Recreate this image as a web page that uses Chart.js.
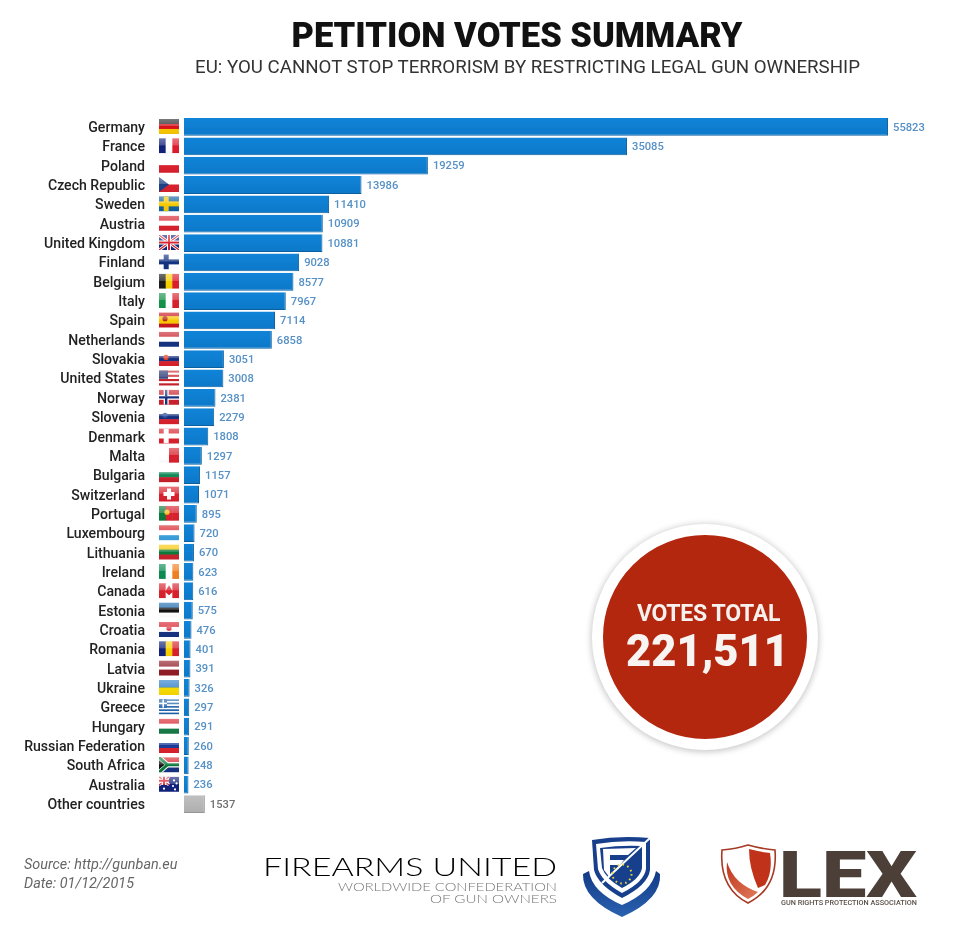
<!DOCTYPE html>
<html>
<head>
<meta charset="utf-8">
<title>Petition votes summary</title>
<script src="https://cdn.jsdelivr.net/npm/chart.js@4"></script>
<style>
  html, body { margin:0; padding:0; background:#fff; }
  #page { position:relative; width:960px; height:945px; overflow:hidden; font-family:Roboto, sans-serif; }
  #page > canvas { position:absolute; left:0; top:0; }
  .txt { position:absolute; white-space:nowrap; }
  #title { left:0; width:1034px; top:14px; text-align:center; font-size:34.5px; line-height:42px; font-weight:900; color:#111; }
  #subtitle { left:0; width:1055px; top:55px; text-align:center; font-size:18.7px; line-height:24px; color:#333; }
  #source { left:24px; top:855px; font-size:14.4px; line-height:19px; font-style:italic; color:#666; }
  #circle { position:absolute; left:592px; top:524px; width:204px; height:204px; border:11px solid #fff; border-radius:50%; background:#b3270f; box-shadow:0 1px 6px 1px rgba(0,0,0,.22); }
  #votesLabel { left:592px; width:233px; top:600px; text-align:center; font-size:23px; line-height:28px; font-weight:700; color:#f6f1ee; letter-spacing:-0.3px; }
  #votesTotal { left:592px; width:231px; top:626px; text-align:center; font-size:43.5px; line-height:52px; font-weight:900; color:#f8f4f2; }
  #logos { position:absolute; left:0; top:0; }
</style>
</head>
<body>
<div id="page">
  <canvas id="votesChart" width="960" height="945"></canvas>
  <div class="txt" id="title">PETITION VOTES SUMMARY</div>
  <div class="txt" id="subtitle">EU: YOU CANNOT STOP TERRORISM BY RESTRICTING LEGAL GUN OWNERSHIP</div>
  <div class="txt" id="source">Source: http://gunban.eu<br>Date: 01/12/2015</div>
  <div id="circle"></div>
  <div class="txt" id="votesLabel">VOTES TOTAL</div>
  <div class="txt" id="votesTotal">221,511</div>
  <svg id="logos" width="960" height="945" viewBox="0 0 960 945">
    <defs>
      <linearGradient id="fuBlue" x1="0" y1="0" x2="0" y2="1">
        <stop offset="0" stop-color="#123a86"/>
        <stop offset="1" stop-color="#2a62b0"/>
      </linearGradient>
      <linearGradient id="lexRed" x1="0" y1="0" x2="1" y2="1">
        <stop offset="0" stop-color="#c0361c"/>
        <stop offset="1" stop-color="#e07a5c"/>
      </linearGradient>
    </defs>
    <text x="557" y="876" text-anchor="end" textLength="294" lengthAdjust="spacingAndGlyphs" font-family="Lato" font-weight="300" font-size="25" fill="#000">FIREARMS UNITED</text>
    <text x="557" y="891" text-anchor="end" textLength="219" lengthAdjust="spacingAndGlyphs" font-family="Lato" font-weight="300" font-size="12" fill="#777">WORLDWIDE CONFEDERATION</text>
    <text x="557" y="903" text-anchor="end" textLength="127" lengthAdjust="spacingAndGlyphs" font-family="Lato" font-weight="300" font-size="12" fill="#777">OF GUN OWNERS</text>
    <!-- firearms united shield -->
    <path d="M583 874 L589 871 Q592 892 622 905 Q652 892 656 871 L660 874 Q662 899 622 917 Q582 899 583 874 Z" fill="url(#fuBlue)"/>
    <path d="M592 840 Q620 835 650 838 L650 870 Q648 885 622 898 Q598 885 594 870 Z" fill="#173f8c"/>
    <path d="M596 844 Q620 840 646 842 L646 869 Q644 882 622 893 Q602 882 598 869 Z" fill="#fff"/>
    <path d="M600 848 Q620 845 642 846 L642 868 Q640 879 622 888 Q606 879 602 868 Z" fill="#173f8c"/>
    <path d="M603 849 L636 848 L628 855 L610 855 L610 860 L624 860 L620 865 L610 865 L610 878 L604 870 Z" fill="#fff"/>
    <path d="M602 883 L650 838" stroke="#fff" stroke-width="2" fill="none"/>
    <circle cx="622" cy="874" r="9.5" fill="none" stroke="#e8d33a" stroke-width="2" stroke-dasharray="1.6 3.4"/>
    <!-- lex shield -->
    <path d="M722 850 Q736 849 748 845 Q762 849 775 850 Q778 888 748 903 Q719 888 722 850 Z" fill="#fff" stroke="#a63a24" stroke-width="1.6"/>
    <path d="M749 849 Q760 852 770 853 Q773 872 765 885 L758 888 Q749 868 749 849 Z" fill="#c0321a"/>
    <path d="M727 862 Q734 884 758 892 Q754 896 748 899 Q724 886 727 862 Z" fill="url(#lexRed)"/>
    <text x="779" y="897" textLength="138" lengthAdjust="spacingAndGlyphs" font-family="Roboto" font-weight="900" font-size="65" fill="#4b3f38">LEX</text>
    <text x="781" y="905" textLength="136" lengthAdjust="spacingAndGlyphs" font-family="Roboto" font-weight="500" font-size="6.3" fill="#5a4f48">GUN RIGHTS PROTECTION ASSOCIATION</text>
  </svg>
</div>

<script>
// =============================
// DATA
// =============================
const countries = [
  "Germany","France","Poland","Czech Republic","Sweden","Austria","United Kingdom","Finland",
  "Belgium","Italy","Spain","Netherlands","Slovakia","United States","Norway","Slovenia",
  "Denmark","Malta","Bulgaria","Switzerland","Portugal","Luxembourg","Lithuania","Ireland",
  "Canada","Estonia","Croatia","Romania","Latvia","Ukraine","Greece","Hungary",
  "Russian Federation","South Africa","Australia","Other countries"
];
const votes = [
  55823,35085,19259,13986,11410,10909,10881,9028,
  8577,7967,7114,6858,3051,3008,2381,2279,
  1808,1297,1157,1071,895,720,670,623,
  616,575,476,401,391,326,297,291,
  260,248,236,1537
];

// flag colours: h = horizontal stripes, v = vertical stripes, extra = drawn on top
const flags = {
  "Germany": { h:["#2a2a2a","#d8121a","#f7c600"] },
  "France": { v:["#10207a","#ffffff","#dd1a2a"] },
  "Poland": { h:["#ffffff","#d8202c"] },
  "Czech Republic": { h:["#ffffff","#d8202c"], extra:"hoist", color:"#1c3f86" },
  "Sweden": { h:["#0f5f9f"], extra:"cross", color:"#f5c800" },
  "Austria": { h:["#d8202c","#ffffff","#d8202c"] },
  "United Kingdom": { h:["#14287a"], extra:"union" },
  "Finland": { h:["#ffffff"], extra:"cross", color:"#10307f" },
  "Belgium": { v:["#1a1a1a","#f7d000","#dd1a2a"] },
  "Italy": { v:["#129247","#ffffff","#d8202c"] },
  "Spain": { h:["#c8141e","#f7c600","#f7c600","#c8141e"], extra:"crest", color:"#b3261e", at:0.3 },
  "Netherlands": { h:["#c8202c","#ffffff","#14307f"] },
  "Slovakia": { h:["#ffffff","#14307f","#d8202c"], extra:"crest", color:"#e0452c", at:0.35 },
  "United States": { h:["#c8202c","#ffffff","#c8202c","#ffffff","#c8202c","#ffffff","#c8202c"], extra:"canton", color:"#20306f" },
  "Norway": { h:["#c8202c"], extra:"cross", color:"#ffffff", inner:"#14307f" },
  "Slovenia": { h:["#ffffff","#14307f","#d8202c"], extra:"crest", color:"#2a50a0", at:0.3 },
  "Denmark": { h:["#d8202c"], extra:"cross", color:"#ffffff" },
  "Malta": { v:["#ffffff","#d8202c"] },
  "Bulgaria": { h:["#ffffff","#108a56","#c8202c"] },
  "Switzerland": { h:["#d8202c"], extra:"swiss" },
  "Portugal": { v:["#0a7a3a","#d8202c","#d8202c"], extra:"crest", color:"#f0c020", at:0.4 },
  "Luxembourg": { h:["#d8202c","#ffffff","#3aa0dc"] },
  "Lithuania": { h:["#f7c600","#0a7a3a","#c8202c"] },
  "Ireland": { v:["#0a8a50","#ffffff","#f08020"] },
  "Canada": { v:["#d8202c","#ffffff","#d8202c"], extra:"leaf" },
  "Estonia": { h:["#1a6ab0","#111111","#ffffff"] },
  "Croatia": { h:["#d8202c","#ffffff","#14307f"], extra:"crest", color:"#d8404c", at:0.5 },
  "Romania": { v:["#10207a","#f7d000","#d8202c"] },
  "Latvia": { h:["#8f1a24","#8f1a24","#ffffff","#8f1a24","#8f1a24"] },
  "Ukraine": { h:["#2a7cc8","#f7d800"] },
  "Greece": { h:["#1a60a8","#ffffff","#1a60a8","#ffffff","#1a60a8","#ffffff","#1a60a8","#ffffff","#1a60a8"], extra:"greek" },
  "Hungary": { h:["#d8202c","#ffffff","#157a45"] },
  "Russian Federation": { h:["#ffffff","#1a3a9a","#d8202c"] },
  "South Africa": { h:["#d8202c","#ffffff","#14307f"], extra:"sa" },
  "Australia": { h:["#10207a"], extra:"aus" }
};

// =============================
// FLAG DRAWING
// =============================
function drawFlag(c, name, x, y, w, h) {
  let f = flags[name];
  if (!f) return;

  c.save();
  c.beginPath();
  c.rect(x, y, w, h);
  c.clip();

  if (f.v) {
    f.v.forEach((col, i) => {
      c.fillStyle = col;
      c.fillRect(x + i * w / f.v.length, y, w / f.v.length + 0.5, h);
    });
  } else {
    f.h.forEach((col, i) => {
      c.fillStyle = col;
      c.fillRect(x, y + i * h / f.h.length, w, h / f.h.length + 0.5);
    });
  }

  if (f.extra === "cross") {
    let cx = x + w * 0.36, cy = y + h / 2;
    c.fillStyle = f.color;
    c.fillRect(cx - 2.5, y, 5, h);
    c.fillRect(x, cy - 2.5, w, 5);
    if (f.inner) {
      c.fillStyle = f.inner;
      c.fillRect(cx - 1.2, y, 2.4, h);
      c.fillRect(x, cy - 1.2, w, 2.4);
    }
  }
  if (f.extra === "crest") {
    c.fillStyle = f.color;
    c.beginPath();
    c.arc(x + w * f.at, y + h * 0.42, 2.6, 0, Math.PI * 2);
    c.fill();
  }
  if (f.extra === "hoist") {
    c.fillStyle = f.color;
    c.beginPath();
    c.moveTo(x, y); c.lineTo(x + w * 0.5, y + h / 2); c.lineTo(x, y + h);
    c.fill();
  }
  if (f.extra === "canton") {
    c.fillStyle = f.color;
    c.fillRect(x, y, w * 0.45, h * 0.55);
  }
  if (f.extra === "swiss") {
    c.fillStyle = "#fff";
    c.fillRect(x + w / 2 - 5.5, y + h / 2 - 2, 11, 4);
    c.fillRect(x + w / 2 - 2, y + h / 2 - 5.5, 4, 11);
  }
  if (f.extra === "leaf") {
    c.fillStyle = "#d8202c";
    c.beginPath();
    c.moveTo(x + w / 2, y + 2); c.lineTo(x + w / 2 + 4, y + h / 2 + 1);
    c.lineTo(x + w / 2, y + h - 3); c.lineTo(x + w / 2 - 4, y + h / 2 + 1);
    c.fill();
  }
  if (f.extra === "greek") {
    c.fillStyle = "#1a60a8";
    c.fillRect(x, y, w * 0.4, h * 0.55);
    c.fillStyle = "#fff";
    c.fillRect(x, y + h * 0.22, w * 0.4, 1.6);
    c.fillRect(x + w * 0.17, y, 1.6, h * 0.55);
  }
  if (f.extra === "union" || f.extra === "aus") {
    let ew = f.extra === "aus" ? w * 0.5 : w, eh = f.extra === "aus" ? h * 0.55 : h;
    [["#fff", 3], ["#d8202c", 1.2]].forEach(s => {
      c.strokeStyle = s[0];
      c.lineWidth = s[1];
      c.beginPath();
      c.moveTo(x, y); c.lineTo(x + ew, y + eh);
      c.moveTo(x + ew, y); c.lineTo(x, y + eh);
      c.stroke();
    });
    [["#fff", 4], ["#d8202c", 2]].forEach(s => {
      c.strokeStyle = s[0];
      c.lineWidth = s[1];
      c.beginPath();
      c.moveTo(x + ew / 2, y); c.lineTo(x + ew / 2, y + eh);
      c.moveTo(x, y + eh / 2); c.lineTo(x + ew, y + eh / 2);
      c.stroke();
    });
    if (f.extra === "aus") {
      c.fillStyle = "#fff";
      [[0.75,0.25],[0.88,0.45],[0.7,0.62],[0.8,0.85],[0.25,0.8]].forEach(p => {
        c.beginPath();
        c.arc(x + w * p[0], y + h * p[1], 1.1, 0, Math.PI * 2);
        c.fill();
      });
    }
  }
  if (f.extra === "sa") {
    c.strokeStyle = "#fff";
    c.lineWidth = 5;
    c.beginPath();
    c.moveTo(x, y); c.lineTo(x + w * 0.42, y + h / 2); c.lineTo(x, y + h);
    c.moveTo(x + w * 0.42, y + h / 2); c.lineTo(x + w, y + h / 2);
    c.stroke();
    c.strokeStyle = "#0a7a3a";
    c.lineWidth = 3;
    c.stroke();
    c.fillStyle = "#111";
    c.beginPath();
    c.moveTo(x, y + 3); c.lineTo(x + w * 0.28, y + h / 2); c.lineTo(x, y + h - 3);
    c.fill();
  }

  // glossy top half, all flags have it
  let gloss = c.createLinearGradient(0, y, 0, y + h);
  gloss.addColorStop(0, "rgba(255,255,255,0.38)");
  gloss.addColorStop(0.45, "rgba(255,255,255,0.22)");
  gloss.addColorStop(0.5, "rgba(255,255,255,0)");
  gloss.addColorStop(1, "rgba(0,0,0,0.04)");
  c.fillStyle = gloss;
  c.fillRect(x, y, w, h);

  c.restore();
}

const flagPlugin = {
  id: "flagPlugin",
  afterDraw(chart) {
    let yScale = chart.scales.y;
    countries.forEach((name, i) => {
      let yc = yScale.getPixelForValue(i);
      drawFlag(chart.ctx, name, chart.chartArea.left - 25, yc - 8, 20, 15);
    });
  }
};

// value next to each bar
const valueLabels = {
  id: "valueLabels",
  afterDatasetsDraw(chart) {
    let c = chart.ctx;
    c.save();
    c.font = "500 11.2px Roboto";
    c.textAlign = "left";
    c.textBaseline = "middle";
    chart.getDatasetMeta(0).data.forEach((bar, i) => {
      c.fillStyle = i === votes.length - 1 ? "#707070" : "#5590c6";
      c.fillText(votes[i], bar.x + 5, bar.y + 1);
    });
    c.restore();
  }
};

// =============================
// CHART
// =============================
function barColor(ctx) {
  let chart = ctx.chart;
  let other = ctx.dataIndex === votes.length - 1;
  if (!chart.chartArea) return other ? "#b4b4b4" : "#0f7fd2";
  let yc = chart.scales.y.getPixelForValue(ctx.dataIndex);
  let g = chart.ctx.createLinearGradient(0, yc - 9, 0, yc + 9);
  g.addColorStop(0, other ? "#c0c0c0" : "#1084d8");
  g.addColorStop(1, other ? "#aeaeae" : "#0c78c8");
  return g;
}

new Chart(document.getElementById("votesChart"), {
  type: "bar",
  data: {
    labels: countries,
    datasets: [{
      data: votes,
      base: -120, // bars in the picture start a touch left of zero
      backgroundColor: barColor,
      borderColor: ctx => ctx.dataIndex === votes.length - 1 ? "#959595" : "#0a5f9e",
      borderWidth: { right: 1, bottom: 1 },
      borderSkipped: false,
      barPercentage: 0.92,
      categoryPercentage: 1
    }]
  },
  plugins: [flagPlugin, valueLabels],
  options: {
    indexAxis: "y",
    responsive: false,
    animation: false,
    layout: { padding: { top: 117.3, bottom: 131.3, right: 19.4, left: 0 } },
    plugins: {
      legend: { display: false },
      tooltip: { enabled: false }
    },
    scales: {
      x: { display: false, min: -120, max: 60000 },
      y: {
        afterFit(scale) { scale.width = 184; },
        border: { display: false },
        grid: { display: false, drawTicks: false },
        ticks: {
          autoSkip: false,
          padding: 39,
          labelOffset: 1.5,
          color: "#222",
          font: { family: "Roboto", size: 14.1, weight: "500" }
        }
      }
    }
  }
});
</script>
</body>
</html>
